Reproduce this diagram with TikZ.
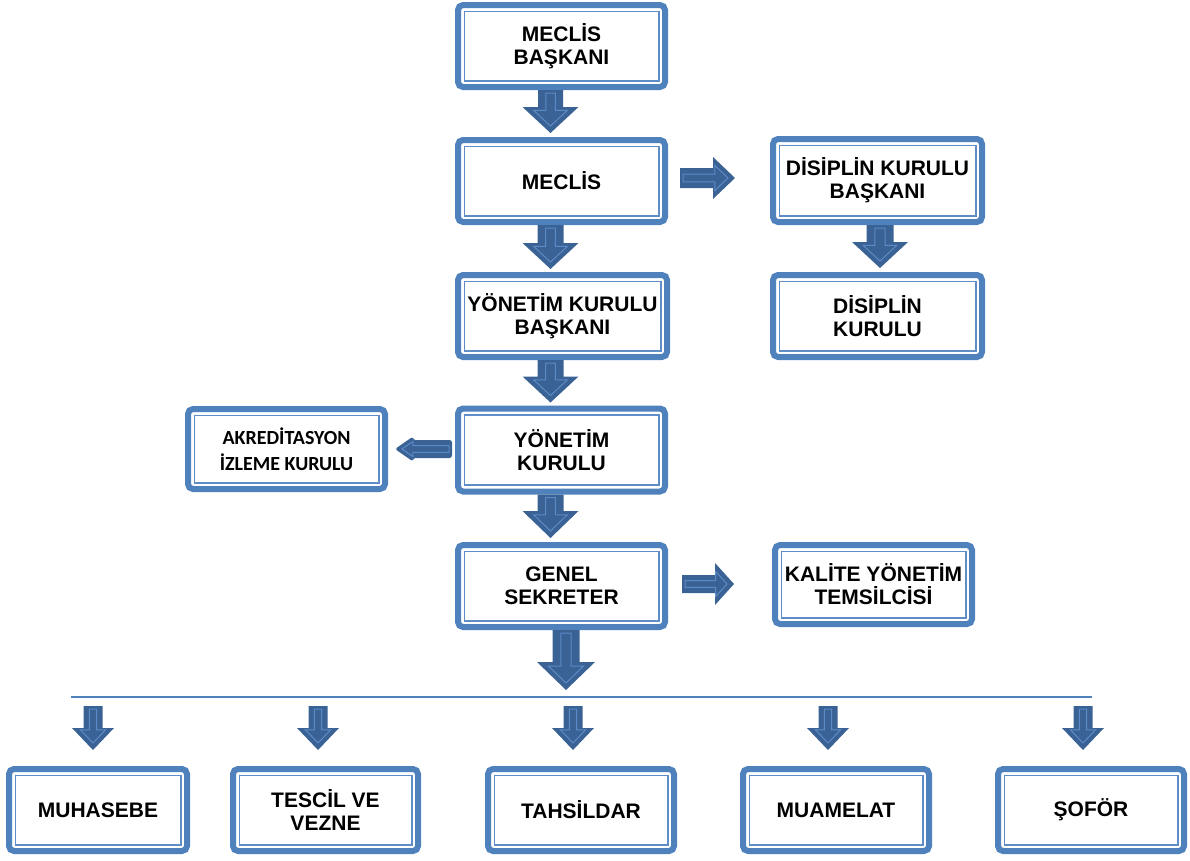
\documentclass[tikz,border=0pt]{standalone}
\usepackage{fontspec}
\setmainfont{Liberation Sans}
\newfontfamily\calib{Carlito}
\usetikzlibrary{calc}
\definecolor{boxblue}{HTML}{4F81BD}
\definecolor{innerblue}{HTML}{5E8DC7}
\definecolor{arrblue}{HTML}{3A6295}
\definecolor{arrline}{HTML}{5B8BC6}

% block arrow: [extra fill style]{start}{tip}{shaft half width}{head half width}{head length}
\newcommand{\blkarrow}[6][]{%
  \coordinate (bA) at #2; \coordinate (bB) at #3;
  \coordinate (bH) at ($(bB)!#6pt!(bA)$);
  \fill[arrblue,#1] ($(bA)!#4pt!90:(bB)$) -- ($(bH)!#4pt!90:(bB)$) -- ($(bH)!#5pt!90:(bB)$) -- (bB)
     -- ($(bH)!#5pt!-90:(bB)$) -- ($(bH)!#4pt!-90:(bB)$) -- ($(bA)!#4pt!-90:(bB)$) -- cycle;
  \pgfmathsetmacro\isw{#4*0.38}\pgfmathsetmacro\ihw{#5*0.6}\pgfmathsetmacro\ihl{#6*0.6}
  \coordinate (iA) at ($(bA)!3pt!(bB)$); \coordinate (iB) at ($(bB)!7pt!(bA)$);
  \coordinate (iH) at ($(iB)!\ihl pt!(iA)$);
  \draw[arrline, line width=1pt, line join=miter] ($(iA)!\isw pt!90:(iB)$) -- ($(iH)!\isw pt!90:(iB)$) -- ($(iH)!\ihw pt!90:(iB)$) -- (iB)
     -- ($(iH)!\ihw pt!-90:(iB)$) -- ($(iH)!\isw pt!-90:(iB)$) -- ($(iA)!\isw pt!-90:(iB)$) -- cycle;
}

\tikzset{
  box/.style 2 args={draw=boxblue, line width=6pt, rounded corners=5pt, fill=white,
    align=center, inner sep=0pt,
    minimum width=#1pt-6pt, minimum height=#2pt-6pt,
    font=\bfseries\fontsize{21}{23}\selectfont,
    path picture={\draw[innerblue, line width=1.8pt, sharp corners]
      ([shift={(6.4pt,-6.4pt)}]path picture bounding box.north west) rectangle
      ([shift={(-6.4pt,6.4pt)}]path picture bounding box.south east);}},
  hline/.style={draw=boxblue, line width=1.6pt}
}

\begin{document}
\begin{tikzpicture}[x=1pt,y=-1pt]
\useasboundingbox (0,0) rectangle (1190,860);

\node[box={213}{88}] (b1) at (561.5,46) {MECLİS\\BAŞKANI};
\node[box={213}{88}] (b2) at (561.5,181) {MECLİS};
\node[box={215}{88}] (b3) at (562.5,316) {YÖNETİM KURULU\\BAŞKANI};
\node[box={213}{89}] (b4) at (561.5,450) {YÖNETİM\\KURULU};
\node[box={213}{88}] (b5) at (561.5,586) {GENEL\\SEKRETER};
\node[box={215}{89}] (d1) at (877.5,180.5) {DİSİPLİN KURULU\\BAŞKANI};
\node[box={215}{88}] (d2) at (877.5,316) {DİSİPLİN\\KURULU};
\node[box={203}{86}, font=\calib\bfseries\fontsize{20}{26}\selectfont] (ak) at (286.5,449) {AKREDİTASYON\\İZLEME KURULU};
\node[box={203}{85}] (ka) at (873.5,584.5) {KALİTE YÖNETİM\\TEMSİLCİSİ};

\node[box={184}{88}] (muh) at (98,810) {MUHASEBE};
\node[box={191}{88}] (tes) at (325.5,810) {TESCİL VE\\VEZNE};
\node[box={192}{88}] (tah) at (581,810) {TAHSİLDAR};
\node[box={192}{88}] (mua) at (836,810) {MUAMELAT};
\node[box={192}{88}] (sof) at (1091,810) {ŞOFÖR};

% horizontal distribution line
\coordinate (hl1) at (71,697);
\coordinate (hl2) at (1092,697);
\draw[hline] (hl1) -- (hl2);
\coordinate (hmid) at (566,690);

% vertical block arrows
\blkarrow{($(b1.south)+(-11,0)$)}{($(b2.north)+(-11,-4)$)}{12.5}{28}{26}
\blkarrow{($(b2.south)+(-11,0)$)}{($(b3.north)+(-12,-3)$)}{13}{28}{26}
\blkarrow{($(b3.south)+(-12,0)$)}{($(b4.north)+(-11,-3)$)}{13}{28}{26}
\blkarrow{($(b4.south)+(-11,0)$)}{($(b5.north)+(-11,-4)$)}{13}{28}{27}
\blkarrow{($(b5.south)+(4.5,0)$)}{(hmid)}{13.5}{29}{28}
\blkarrow{($(d1.south)+(2.5,0)$)}{($(d2.north)+(2.5,-4)$)}{13.5}{28}{26}

% horizontal block arrows
\blkarrow{($(b2.east)+(12,-3)$)}{($(d1.west)+(-35,-2.5)$)}{10}{21}{22}
\blkarrow{($(b5.east)+(14,-2)$)}{($(ka.west)+(-38,-0.5)$)}{9}{21}{19}
\blkarrow[rounded corners=2.5pt]{($(b4.west)+(-3,-1)$)}{($(ak.east)+(7,0)$)}{9}{12.5}{18}

% bottom arrows
\blkarrow{($(muh.north)+(-5,-60)$)}{($(muh.north)+(-5,-16)$)}{9.5}{21}{22}
\blkarrow{($(tes.north)+(-7.5,-60)$)}{($(tes.north)+(-7.5,-16)$)}{9.5}{21}{22}
\blkarrow{($(tah.north)+(-8,-60)$)}{($(tah.north)+(-8,-16)$)}{9.5}{21}{22}
\blkarrow{($(mua.north)+(-8,-60)$)}{($(mua.north)+(-8,-16)$)}{9.5}{21}{22}
\blkarrow{($(sof.north)+(-8,-60)$)}{($(sof.north)+(-8,-16)$)}{9.5}{21}{22}
\end{tikzpicture}
\end{document}
